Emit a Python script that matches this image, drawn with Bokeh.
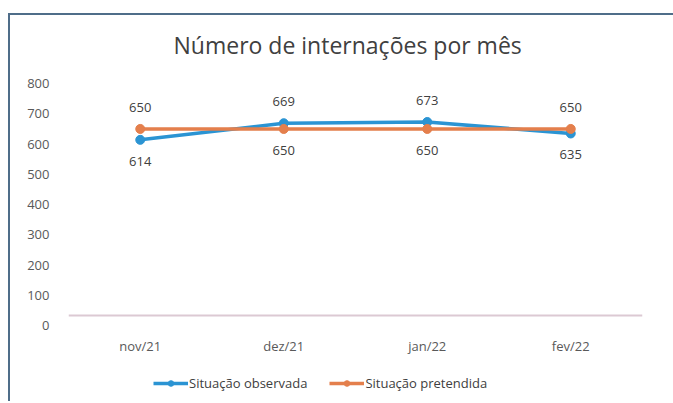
from bokeh.plotting import figure
from bokeh.models import Range1d, FactorRange, Span, Legend, LegendItem, Title
from bokeh.core.properties import value
from bokeh.embed import file_html
from bokeh.resources import INLINE

months = ["nov/21", "dez/21", "jan/22", "fev/22"]
observada = [614, 669, 673, 635]
pretendida = [650, 650, 650, 650]
y_ticks = [0, 100, 200, 300, 400, 500, 600, 700, 800]

FONT = "Open Sans"
BLUE = "#2b94d3"
ORANGE = "#e47f4c"
TXT = "#404040"

p = figure(x_range=FactorRange(*months, range_padding=0), y_range=Range1d(-258, 840),
           width=665, height=388, output_backend="svg", toolbar_location=None,
           min_border_left=58, min_border_right=33, min_border_top=56, min_border_bottom=0)
p.margin = (13, 0, 0, 8)
p.styles = {"border-left": "2px solid #4f6d89", "border-top": "2px solid #4f6d89"}
p.outline_line_color = None
p.xgrid.grid_line_color = None
p.ygrid.grid_line_color = None
p.background_fill_color = "white"
p.border_fill_color = "white"

p.yaxis.ticker = y_ticks
p.yaxis.axis_line_color = None
p.yaxis.major_tick_line_color = None
p.yaxis.minor_tick_line_color = None
p.yaxis.major_label_standoff = 13
p.yaxis.major_label_text_font = FONT
p.yaxis.major_label_text_font_size = "13px"
p.yaxis.major_label_text_color = "#595959"

p.xaxis.fixed_location = 0
p.xaxis.axis_line_color = None
p.xaxis.major_tick_line_color = None
p.xaxis.minor_tick_line_color = None
p.xaxis.major_label_standoff = 6
p.xaxis.major_label_text_font = FONT
p.xaxis.major_label_text_font_size = "13px"
p.xaxis.major_label_text_color = "#595959"

p.add_layout(Span(location=33, dimension="width", line_color="#dcc9d3", line_width=2))

p.title = Title(text="Número de internações por mês", align="left", text_font=FONT,
                text_font_size="23px", text_color=TXT, text_font_style="normal",
                standoff=22, offset=105)

lo = p.line(months, observada, line_color=BLUE, line_width=3.5)
mo = p.scatter(months, observada, size=9, fill_color=BLUE, line_color=BLUE)
lp = p.line(months, pretendida, line_color=ORANGE, line_width=3.5)
mp = p.scatter(months, pretendida, size=9, fill_color=ORANGE, line_color=ORANGE)

def add_labels(vals, other):
    up = [(m, v) for m, v, o in zip(months, vals, other) if v >= o]
    dn = [(m, v) for m, v, o in zip(months, vals, other) if v < o]
    if up:
        p.text([m for m, _ in up], [v for _, v in up], text=[str(v) for _, v in up],
               text_align="center", text_baseline="bottom", y_offset=-17,
               text_font=value(FONT), text_font_size="13px", text_color=TXT)
    if dn:
        p.text([m for m, _ in dn], [v for _, v in dn], text=[str(v) for _, v in dn],
               text_align="center", text_baseline="top", y_offset=17,
               text_font=value(FONT), text_font_size="13px", text_color=TXT)

add_labels(observada, pretendida)
add_labels(pretendida, observada)

legend = Legend(items=[LegendItem(label="Situação observada", renderers=[lo, mo]),
                       LegendItem(label="Situação pretendida", renderers=[lp, mp])],
                orientation="horizontal", location=(85, 11),
                label_text_font=FONT, label_text_font_size="13px", label_text_color=TXT,
                glyph_width=35, glyph_height=14, label_standoff=1, spacing=22,
                padding=0, margin=0, border_line_color=None, background_fill_alpha=0)
p.add_layout(legend, "center")

open("out.html", "w").write(file_html(p, INLINE))
